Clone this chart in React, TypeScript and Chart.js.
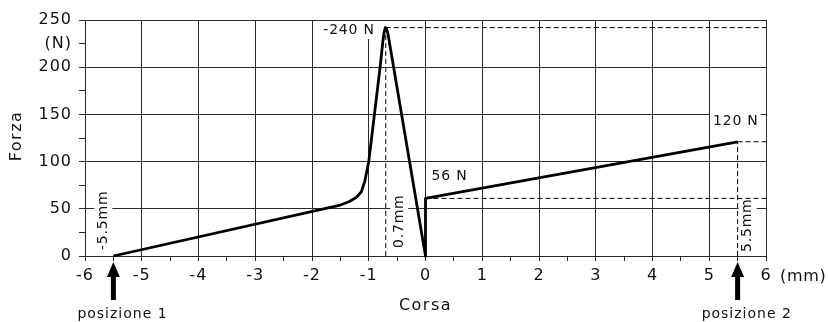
import React, { useEffect, useRef } from 'react';
import { Chart, registerables } from 'chart.js';

Chart.register(...registerables);

// ---- data ----
const corsa = [-5.5, -1.5, -1.35, -1.22, -1.13, -1.07, -1.03, -1.0, -0.9, -0.8, -0.75, -0.725, -0.705, -0.685, -0.66, 0, 0, 5.5];
const forza = [0, 54, 57.5, 62, 68, 79, 91, 100, 150, 200, 228, 238.5, 242, 240.5, 235, 0, 61, 121];

const startCorsa = -5.5;
const peakCorsa = -0.7;
const peakForza = 242;
const jumpCorsa = 0;
const jumpForza = 61;
const endCorsa = 5.5;
const endForza = 121;

const xMin = -6;
const xMax = 6;
const yMin = 0;
const yMax = 250;
const yUnitLabelValue = 225;

const labelPeak = '-240 N';
const labelJump = '56 N';
const labelEnd = '120 N';
const labelStart = '-5.5mm';
const labelPeakPos = '0.7mm';
const labelEndPos = '5.5mm';
const labelPos1 = 'posizione 1';
const labelPos2 = 'posizione 2';
const titleX = 'Corsa';
const titleY = 'Forza';
const unitX = '(mm)';
const unitY = '(N)';

const FONT = "'DejaVu Sans', sans-serif";
const INK = '#111';
const GRID = '#2a2a2a';

function drawText(
  ctx: CanvasRenderingContext2D,
  text: string,
  px: number,
  py: number,
  opts: { align?: CanvasTextAlign; size?: number; rotate?: boolean; bg?: boolean; spacing?: string }
) {
  const size = opts.size ?? 14;
  ctx.save();
  ctx.font = `${size}px ${FONT}`;
  (ctx as any).letterSpacing = opts.spacing ?? '0.8px';
  ctx.textBaseline = 'middle';
  ctx.textAlign = opts.align ?? 'left';
  ctx.translate(px, py);
  if (opts.rotate) ctx.rotate(-Math.PI / 2);
  const w = ctx.measureText(text).width;
  if (opts.bg) {
    let x0 = 0;
    if (ctx.textAlign === 'right') x0 = -w;
    else if (ctx.textAlign === 'center') x0 = -w / 2;
    ctx.fillStyle = '#fff';
    const h = size + 4;
    ctx.fillRect(x0 - 3, -h / 2, w + 5, h);
  }
  ctx.fillStyle = INK;
  ctx.fillText(text, 0, 0);
  ctx.restore();
}

const annotations = {
  id: 'annotations',
  beforeDraw(chart: any) {
    chart.ctx.letterSpacing = '1px';
  },
  beforeDatasetsDraw(chart: any) {
    const { ctx, scales } = chart;
    const x = scales.x;
    const y = scales.y;
    const y0 = y.getPixelForValue(0);
    drawText(ctx, labelPeak, x.getPixelForValue(peakCorsa) - 11, y.getPixelForValue(peakForza) + 2.5, { align: 'right', bg: true });
    drawText(ctx, labelJump, x.getPixelForValue(jumpCorsa) + 6, y.getPixelForValue(jumpForza) - 22, { align: 'left', bg: true });
    drawText(ctx, labelEnd, x.getPixelForValue(endCorsa) + 21, y.getPixelForValue(endForza) - 20, { align: 'right', bg: true });
    drawText(ctx, labelStart, x.getPixelForValue(startCorsa) - 10, y0 - 6, { rotate: true, bg: true });
    drawText(ctx, labelPeakPos, x.getPixelForValue(peakCorsa) + 13.5, y0 - 8, { rotate: true, bg: true });
    drawText(ctx, labelEndPos, x.getPixelForValue(endCorsa) + 10, y0 - 4, { rotate: true, bg: true });
  },
  afterDraw(chart: any) {
    const { ctx, scales } = chart;
    ctx.letterSpacing = '0px';
    const x = scales.x;
    const y = scales.y;
    const y0 = y.getPixelForValue(0);
    // arrows
    [startCorsa, endCorsa].forEach((v) => {
      const px = x.getPixelForValue(v);
      ctx.save();
      ctx.fillStyle = '#000';
      ctx.beginPath();
      ctx.moveTo(px, y0 + 6);
      ctx.lineTo(px + 6.5, y0 + 21);
      ctx.lineTo(px + 2.5, y0 + 21);
      ctx.lineTo(px + 2.5, y0 + 44);
      ctx.lineTo(px - 2.5, y0 + 44);
      ctx.lineTo(px - 2.5, y0 + 21);
      ctx.lineTo(px - 6.5, y0 + 21);
      ctx.closePath();
      ctx.fill();
      ctx.restore();
    });
    drawText(ctx, labelPos1, x.getPixelForValue(startCorsa) - 36, y0 + 58, { align: 'left', size: 14, spacing: '1px' });
    drawText(ctx, labelPos2, x.getPixelForValue(endCorsa) - 36, y0 + 58, { align: 'left', size: 14, spacing: '1px' });
    drawText(ctx, titleX, x.getPixelForValue(0), y0 + 50, { align: 'center', size: 16, spacing: '1.5px' });
    drawText(ctx, titleY, 17, (y.top + y.bottom) / 2 - 2, { align: 'center', size: 16, rotate: true, spacing: '1.5px' });
    drawText(ctx, unitX, x.right + 14, y0 + 21, { align: 'left', size: 16, spacing: '0.7px' });
  },
};

export default function App() {
  const ref = useRef<HTMLCanvasElement | null>(null);

  useEffect(() => {
    if (!ref.current) return;
    const mainData = corsa.map((c, i) => ({ x: c, y: forza[i] }));
    const dashed = (pts: { x: number; y: number }[]) => ({
      data: pts,
      showLine: true,
      borderColor: '#000',
      borderWidth: 1,
      borderDash: [5, 3],
      pointRadius: 0,
      fill: false,
      clip: false as any,
    });
    const chart = new Chart(ref.current, {
      type: 'scatter',
      data: {
        datasets: [
          {
            data: mainData,
            showLine: true,
            borderColor: '#000',
            borderWidth: 2.8,
            borderJoinStyle: 'round',
            pointRadius: 0,
            fill: false,
            clip: false as any,
          } as any,
          dashed([{ x: peakCorsa, y: 0 }, { x: peakCorsa, y: peakForza }]),
          dashed([{ x: peakCorsa, y: peakForza }, { x: xMax, y: peakForza }]),
          dashed([{ x: jumpCorsa, y: jumpForza }, { x: xMax, y: jumpForza }]),
          dashed([{ x: endCorsa, y: endForza }, { x: xMax, y: endForza }]),
          dashed([{ x: endCorsa, y: 0 }, { x: endCorsa, y: endForza }]),
        ],
      },
      options: {
        responsive: false,
        animation: false,
        devicePixelRatio: 1,
        layout: { padding: { left: 0, right: 62, top: 20, bottom: 0 } },
        plugins: { legend: { display: false }, tooltip: { enabled: false } },
        scales: {
          x: {
            type: 'linear',
            min: xMin,
            max: xMax,
            ticks: {
              stepSize: 0.5,
              autoSkip: false,
              maxRotation: 0,
              padding: 5,
              color: INK,
              font: { family: FONT, size: 16 },
              callback: (v: any) => (Number.isInteger(v) ? String(v) : ''),
            },
            grid: {
              color: (c: any) => (c.tick && Number.isInteger(c.tick.value) ? GRID : 'rgba(0,0,0,0)'),
              tickColor: GRID,
              tickLength: 5,
              lineWidth: 1,
            },
            border: { color: GRID, width: 1 },
            afterFit: (s: any) => {
              s.height = 66;
              s.paddingLeft = 0;
              s.paddingRight = 0;
            },
          },
          y: {
            type: 'linear',
            min: yMin,
            max: yMax,
            ticks: {
              stepSize: 25,
              autoSkip: false,
              padding: 7,
              color: INK,
              font: { family: FONT, size: 16 },
              callback: (v: any) => (v === yUnitLabelValue ? unitY : v % 50 === 0 ? String(v) : ''),
            },
            grid: {
              color: (c: any) => (c.tick && c.tick.value % 50 === 0 ? GRID : 'rgba(0,0,0,0)'),
              tickColor: GRID,
              tickLength: 6,
              lineWidth: 1,
            },
            border: { color: GRID, width: 1 },
            afterFit: (s: any) => {
              s.width = 85;
              s.paddingTop = 0;
              s.paddingBottom = 0;
            },
          },
        },
      } as any,
      plugins: [annotations as any],
    });
    return () => chart.destroy();
  }, []);

  return (
    <div style={{ position: 'absolute', left: 0, top: 0, width: 828, height: 322, background: '#fff' }}>
      <canvas ref={ref} width={828} height={322} style={{ display: 'block' }} />
    </div>
  );
}
